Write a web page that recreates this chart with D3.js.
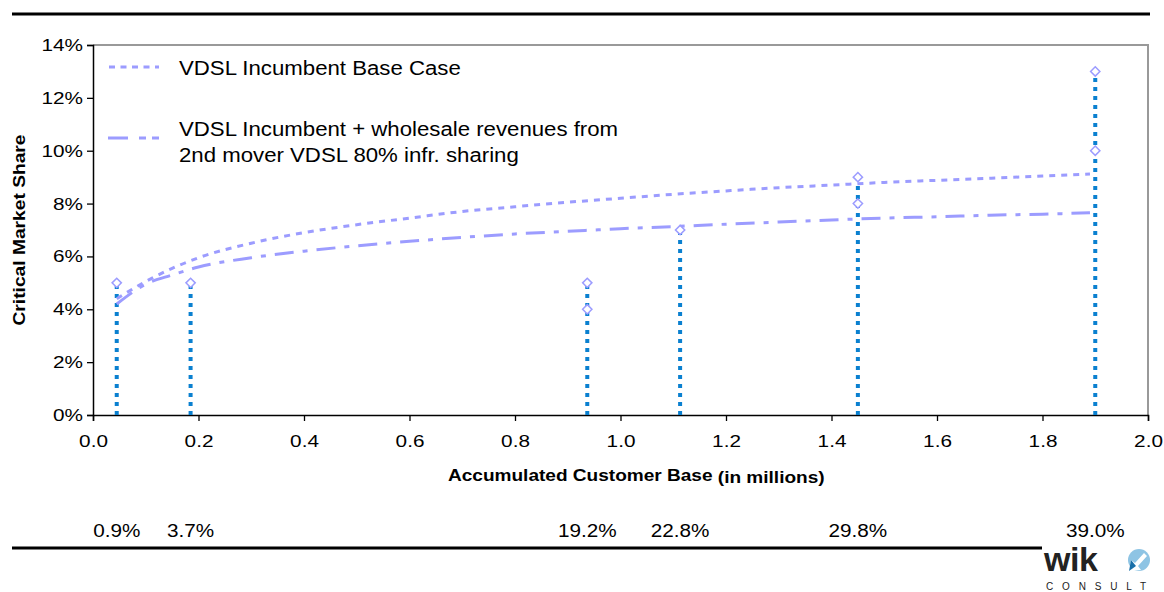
<!DOCTYPE html>
<html>
<head>
<meta charset="utf-8">
<script src="https://cdn.jsdelivr.net/npm/d3@7"></script>
<style>
  body { margin: 0; background: #fff; }
  svg { display: block; font-family: "Liberation Sans", Arial, sans-serif; }
</style>
</head>
<body>
<div id="chart"></div>
<script>
// data
const lineX = [0.045, 0.1, 0.15, 0.2, 0.3, 0.4, 0.5, 0.6, 0.7, 0.8, 0.9, 1.0, 1.1, 1.2, 1.3, 1.4, 1.5, 1.6, 1.7, 1.8, 1.89];
const baseCase = [0.044, 0.0505, 0.0555, 0.0595, 0.065, 0.069, 0.072, 0.0745, 0.077, 0.0788, 0.0805, 0.082, 0.0835, 0.0848, 0.086, 0.087, 0.088, 0.0888, 0.0896, 0.0904, 0.0912];
const wholesale = [0.042, 0.0495, 0.053, 0.056, 0.0595, 0.062, 0.064, 0.0657, 0.0672, 0.0685, 0.0695, 0.0705, 0.0713, 0.0722, 0.073, 0.0738, 0.0745, 0.075, 0.0756, 0.076, 0.0765];

const dropX = [0.045, 0.185, 0.937, 1.113, 1.45, 1.9];
const dropTop = [0.05, 0.05, 0.05, 0.07, 0.09, 0.13];
const dropPct = ["0.9%", "3.7%", "19.2%", "22.8%", "29.8%", "39.0%"];

// diamond markers [x, y]
const markX = [0.045, 0.185, 0.937, 0.937, 1.113, 1.45, 1.45, 1.9, 1.9];
const markY = [0.05, 0.05, 0.05, 0.04, 0.07, 0.09, 0.08, 0.13, 0.10];

const xTicks = [0, 0.2, 0.4, 0.6, 0.8, 1.0, 1.2, 1.4, 1.6, 1.8, 2.0];
const yTicks = [0, 0.02, 0.04, 0.06, 0.08, 0.10, 0.12, 0.14];

const seriesNames = ["VDSL Incumbent Base Case",
  "VDSL Incumbent + wholesale revenues from|2nd mover VDSL 80% infr. sharing"];

const width = 1164, height = 592;
const lav = "#9c9cff";
const blue = "#0a80d0";

const svg = d3.select("#chart").append("svg")
  .attr("width", width).attr("height", height);

// reference font runs wider than Liberation Sans, so stretch texts
function stretch(sel, f) {
  sel.each(function () {
    const w = this.getComputedTextLength();
    d3.select(this).attr("textLength", w * f).attr("lengthAdjust", "spacingAndGlyphs");
  });
}

const x = d3.scaleLinear().domain([0, 2]).range([93, 1148]);
const y = d3.scaleLinear().domain([0, 0.14]).range([415, 45]);

// top and bottom rules
svg.append("line").attr("x1", 12).attr("x2", 1150).attr("y1", 14).attr("y2", 14)
  .attr("stroke", "#000").attr("stroke-width", 3);
svg.append("line").attr("x1", 12).attr("x2", 1042).attr("y1", 548).attr("y2", 548)
  .attr("stroke", "#000").attr("stroke-width", 3);

// gray frame top/right
svg.append("path")
  .attr("d", `M${x(0)},${y(0.14)}H${x(2)}V${y(0)}`)
  .attr("fill", "none").attr("stroke", "#999").attr("stroke-width", 2);

// axes
const xAxis = svg.append("g").attr("transform", `translate(0,${y(0)})`)
  .call(d3.axisBottom(x).tickValues(xTicks).tickFormat(d3.format(".1f")).tickSizeOuter(0).tickSize(6).tickPadding(14));
const yAxis = svg.append("g").attr("transform", `translate(${x(0)},0)`)
  .call(d3.axisLeft(y).tickValues(yTicks).tickFormat(d3.format(".0%")).tickSizeOuter(0).tickSize(6).tickPadding(4));

[xAxis, yAxis].forEach(g => {
  g.selectAll(".domain").attr("stroke", "#000").attr("stroke-width", 1.5);
  g.selectAll(".tick line").attr("stroke", "#000").attr("stroke-width", 1.3);
  g.selectAll("text").attr("font-size", 17).attr("fill", "#000")
    .attr("font-family", "Liberation Sans, Arial, sans-serif");
  stretch(g.selectAll("text"), 1.22);
});

// axis titles
const xt = svg.append("text").attr("x", 448).attr("y", 481)
  .attr("font-size", 16).attr("font-weight", "bold");
const xt1 = xt.append("tspan").text("Accumulated Customer Base ");
const xt2 = xt.append("tspan").attr("dy", 2).text("(in millions)");
stretch(xt1, 1.19);
stretch(xt2, 1.19);

const yt = svg.append("text")
  .attr("transform", "translate(25,230) rotate(-90)")
  .attr("text-anchor", "middle").attr("font-size", 16).attr("font-weight", "bold")
  .text("Critical Market Share");
stretch(yt, 1.2);

// vertical dotted drops
svg.append("g").selectAll("line")
  .data(dropX)
  .join("line")
  .attr("x1", d => x(d)).attr("x2", d => x(d))
  .attr("y1", y(0)).attr("y2", (d, i) => y(dropTop[i]))
  .attr("stroke", blue).attr("stroke-width", 4).attr("stroke-dasharray", "4 5");

// curves
const line = d3.line().x((d, i) => x(lineX[i])).y(d => y(d)).curve(d3.curveMonotoneX);
svg.append("path").datum(baseCase).attr("d", line)
  .attr("fill", "none").attr("stroke", lav).attr("stroke-width", 3)
  .attr("stroke-dasharray", "6 6");
svg.append("path").datum(wholesale).attr("d", line)
  .attr("fill", "none").attr("stroke", lav).attr("stroke-width", 3)
  .attr("stroke-dasharray", "19 9 5 9");

// diamonds
svg.append("g").selectAll("path")
  .data(markX)
  .join("path")
  .attr("d", d3.symbol(d3.symbolDiamond2, 55))
  .attr("transform", (d, i) => `translate(${x(d)},${y(markY[i])})`)
  .attr("fill", "#fff").attr("stroke", lav).attr("stroke-width", 1.5);

// bottom percentages
const pct = svg.append("g").selectAll("text")
  .data(dropX)
  .join("text")
  .attr("x", d => x(d)).attr("y", 537)
  .attr("text-anchor", "middle").attr("font-size", 18)
  .text((d, i) => dropPct[i]);
stretch(pct, 1.15);

// legend
const legend = svg.append("g");
legend.append("line").attr("x1", 109).attr("x2", 159).attr("y1", 67).attr("y2", 67)
  .attr("stroke", lav).attr("stroke-width", 3).attr("stroke-dasharray", "6 5.5");
const l1 = legend.append("text").attr("x", 179).attr("y", 75).attr("font-size", 20)
  .text(seriesNames[0]);
stretch(l1, 1.11);
legend.append("line").attr("x1", 108).attr("x2", 159).attr("y1", 138).attr("y2", 138)
  .attr("stroke", lav).attr("stroke-width", 3).attr("stroke-dasharray", "20 11 7 6 7");
const l2 = legend.append("text").attr("font-size", 20)
  .selectAll("tspan")
  .data(seriesNames[1].split("|"))
  .join("tspan")
  .attr("x", 179).attr("y", (d, i) => 136 + i * 26)
  .text(d => d);
stretch(l2, 1.11);

// logo
const logo = svg.append("g");
logo.append("text").attr("x", 1044).attr("y", 571).attr("font-size", 34)
  .attr("font-weight", "bold").attr("fill", "#222").attr("letter-spacing", -0.5).text("wik");
logo.append("circle").attr("cx", 1139).attr("cy", 560).attr("r", 11).attr("fill", "#8ec4e4");
logo.append("path").attr("d", "M1129,571 L1131,560 L1135,563 L1144,553 L1147,556 L1138,566 L1141,570 Z")
  .attr("fill", "#fff");
logo.append("path").attr("d", "M1129,571 L1131,560 L1136,566 Z").attr("fill", "#1a6fa8");
logo.append("text").attr("x", 1046).attr("y", 590).attr("font-size", 10)
  .attr("textLength", 100).attr("lengthAdjust", "spacing")
  .attr("fill", "#222").text("CONSULT");
</script>
</body>
</html>
